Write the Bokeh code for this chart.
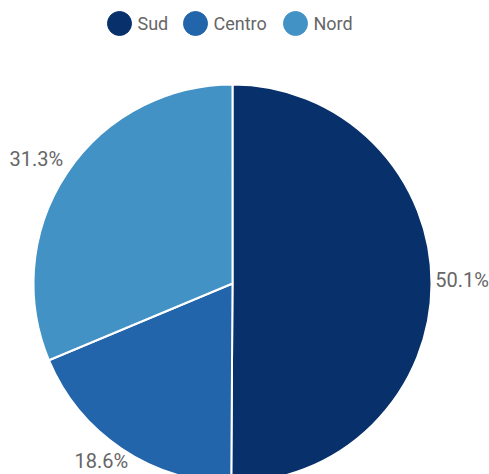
import math
from bokeh.plotting import figure
from bokeh.models import ColumnDataSource, Range1d
from bokeh.core.properties import value
from bokeh.embed import file_html
from bokeh.resources import INLINE

# ---- data ----
categories = ["Sud", "Centro", "Nord"]
shares = [50.1, 18.6, 31.3]
colors = ["#08306b", "#2265aa", "#4292c6"]

# ---- layout ----
W, H = 489, 474
cx, cy, R = 232, -283, 199  # figure-local coords (y negative downward)
font = "Roboto"
text_color = "#666666"
label_px = 20
label_box_w = 53 + 8          # text width + padding
label_box_h = label_px * 1.2 + 8
label_dy = 4                  # visual baseline correction

total = sum(shares)
starts, ends, lx, ly, labels = [], [], [], [], []
cum = 0.0
for s in shares:
    a0 = math.pi / 2 - 2 * math.pi * cum / total
    cum += s
    a1 = math.pi / 2 - 2 * math.pi * cum / total
    starts.append(a0)
    ends.append(a1)
    mid = (a0 + a1) / 2
    vx, vy = math.cos(mid), math.sin(mid)
    vs = 1 / max(abs(vx), abs(vy))
    ax, ay = cx + R * vx, cy + R * vy
    lx.append(ax + label_box_w / 2 * vx * vs)
    ly.append(ay + label_box_h / 2 * vy * vs + label_dy)
    labels.append(f"{s:.1f}%")

src = ColumnDataSource(dict(cat=categories, color=colors, start=starts, end=ends,
                            lx=lx, ly=ly, label=labels))

p = figure(width=W, height=H, output_backend="svg", toolbar_location=None,
           x_range=Range1d(0, W), y_range=Range1d(-H, 0), min_border=0)
p.axis.visible = False
p.grid.visible = False
p.outline_line_color = None

p.wedge(x=cx, y=cy, radius=R, start_angle="start", end_angle="end", direction="clock",
        fill_color="color", line_color="white", line_width=2, source=src)

p.text(x="lx", y="ly", text="label", text_align="center", text_baseline="middle",
       text_font=value(font), text_font_size=f"{label_px}px", text_color=text_color, source=src)

# legend (manual, horizontal, centered above)
leg_cx = [119, 195, 295]
leg_y = -23
lsrc = ColumnDataSource(dict(x=leg_cx, tx=[x + 18 for x in leg_cx], y=[leg_y] * 3,
                             cat=categories, color=colors))
p.scatter(x="x", y="y", size=24, marker="circle", fill_color="color", line_color="color", source=lsrc)
p.text(x="tx", y="y", text="cat", text_align="left", text_baseline="middle",
       text_font=value(font), text_font_size="18px", text_color=text_color, source=lsrc)

open("out.html", "w").write(file_html(p, INLINE))
